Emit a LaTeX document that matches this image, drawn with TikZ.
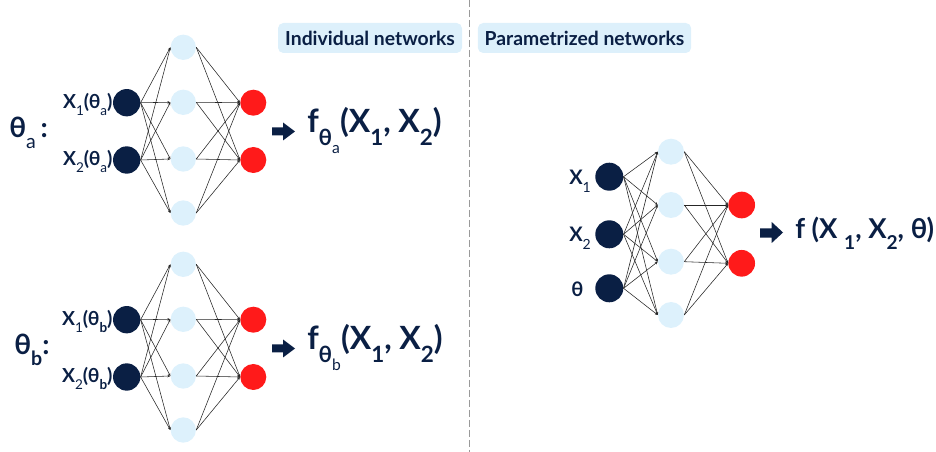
\documentclass[tikz,border=0pt]{standalone}
\usepackage{fontspec}
\setmainfont{Lato}
\usetikzlibrary{arrows.meta}
\definecolor{navy}{HTML}{0A1F44}
\definecolor{hidfill}{HTML}{DDF1FC}
\definecolor{outred}{HTML}{FF1A1A}
\definecolor{tagfill}{HTML}{DDF0FB}
\makeatletter
% lowered index in a reduced size; \lsub sets it in regular weight, \bsub keeps bold
\newcommand\subsize{\fontsize{\strip@pt\dimexpr 0.7\dimexpr\f@size pt\relax\relax}{0}\selectfont}
\newcommand\lsub[1]{\raisebox{-0.75ex}{\normalfont\subsize #1}}
\newcommand\bsub[1]{\raisebox{-0.75ex}{\subsize #1}}
\makeatother
\begin{document}
\begin{tikzpicture}[x=0.75pt,y=-0.75pt,
  innode/.style={circle,fill=navy,inner sep=0pt,minimum size=20.5pt},
  hidnode/.style={circle,fill=hidfill,inner sep=0pt,minimum size=19pt},
  outnode/.style={circle,fill=outred,inner sep=0pt,minimum size=19.5pt},
  edge/.style={draw=black!85,line width=0.42pt,-{Stealth[length=2.2pt,width=1.8pt]}},
  lbl/.style={text=navy,font=\bfseries,inner sep=0pt},
  tag/.style={fill=tagfill,rounded corners=4pt,text=navy,font=\bfseries\fontsize{14.5}{16}\selectfont,
    minimum height=22.5pt,inner xsep=4pt},
  bigarrow/.style={fill=navy}]
\useasboundingbox (0,0) rectangle (936,452);

% separator between the two panels
\draw[gray!80,dashed,dash pattern=on 5pt off 2.5pt,line width=0.7pt] (469,0) -- (469,452);

% panel titles
\node[tag,minimum width=138pt] (tagA) at (370,38) {Individual networks};
\node[tag,minimum width=160pt] (tagB) at (584.5,38) {Parametrized networks};

% ---------- individual network for theta_a ----------
\foreach \n/\y in {1/102.7,2/160} \node[innode] (a-i\n) at (126.7,\y) {};
\foreach \n/\y in {1/47.3,2/102.3,3/159,4/213} \node[hidnode] (a-h\n) at (183.3,\y) {};
\foreach \n/\y in {1/102.7,2/160} \node[outnode] (a-o\n) at (253.3,\y) {};
\foreach \i in {1,2} \foreach \h in {1,...,4} \draw[edge] (a-i\i.east) -- (a-h\h.west);
\foreach \h in {1,...,4} \foreach \o in {1,2} \draw[edge] (a-h\h.east) -- (a-o\o.west);

\node[lbl,anchor=base east,yshift=-4pt,font=\bfseries\fontsize{14.5}{16}\selectfont] (a-l1) at (a-i1.west) {X\lsub{1}(θ\lsub{a})};
\node[lbl,anchor=base east,yshift=-4pt,font=\bfseries\fontsize{14.5}{16}\selectfont] (a-l2) at (a-i2.west) {X\lsub{2}(θ\lsub{a})};
\node[lbl,anchor=base west,font=\bfseries\fontsize{21}{24}\selectfont] (a-par) at (9,138) {θ\lsub{a}\,:};

\fill[bigarrow] (272,127.5) -- (283,127.5) -- (283,122.5) -- (295,131.5) -- (283,140.5) -- (283,135.5) -- (272,135.5) -- cycle;
\node[lbl,anchor=base west,font=\bfseries\fontsize{24}{28}\selectfont] (a-f) at (307,133)
  {f\bsub{θ\lsub{a}}(X\bsub{1}, X\bsub{2})};

% ---------- individual network for theta_b ----------
\foreach \n/\y in {1/319.7,2/377} \node[innode] (b-i\n) at (126.7,\y) {};
\foreach \n/\y in {1/264.3,2/319.3,3/376,4/430} \node[hidnode] (b-h\n) at (183.3,\y) {};
\foreach \n/\y in {1/319.7,2/377} \node[outnode] (b-o\n) at (253.3,\y) {};
\foreach \i in {1,2} \foreach \h in {1,...,4} \draw[edge] (b-i\i.east) -- (b-h\h.west);
\foreach \h in {1,...,4} \foreach \o in {1,2} \draw[edge] (b-h\h.east) -- (b-o\o.west);

\node[lbl,anchor=base east,yshift=-4pt,font=\bfseries\fontsize{14.5}{16}\selectfont] (b-l1) at (b-i1.west) {X\lsub{1}(θ\bsub{b})};
\node[lbl,anchor=base east,yshift=-4pt,font=\bfseries\fontsize{14.5}{16}\selectfont] (b-l2) at (b-i2.west) {X\lsub{2}(θ\bsub{b})};
\node[lbl,anchor=base west,font=\bfseries\fontsize{21}{24}\selectfont] (b-par) at (14,355) {θ\bsub{b}:};

\fill[bigarrow] (272,344.5) -- (283,344.5) -- (283,339.5) -- (295,348.5) -- (283,357.5) -- (283,352.5) -- (272,352.5) -- cycle;
\node[lbl,anchor=base west,font=\bfseries\fontsize{24}{28}\selectfont] (b-f) at (307,350)
  {f\bsub{θ\lsub{b}}(X\bsub{1}, X\bsub{2})};

% ---------- parametrized network ----------
\foreach \n/\y in {1/176.7,2/234.3,3/288.3} \node[innode,minimum size=21pt] (p-i\n) at (609.3,\y) {};
\foreach \n/\y in {1/151.7,2/205,3/261.7,4/315} \node[hidnode,minimum size=19.5pt] (p-h\n) at (671,\y) {};
\foreach \n/\y in {1/205,2/263.3} \node[outnode,minimum size=20pt] (p-o\n) at (741.7,\y) {};
\foreach \i in {1,2,3} \foreach \h in {1,...,4} \draw[edge] (p-i\i.east) -- (p-h\h.west);
\foreach \h in {1,...,4} \foreach \o in {1,2} \draw[edge] (p-h\h.east) -- (p-o\o.west);

\node[lbl,anchor=base west,font=\bfseries\fontsize{15}{17}\selectfont] (p-l1) at (569,185) {X\lsub{1}};
\node[lbl,anchor=base west,font=\bfseries\fontsize{15}{17}\selectfont] (p-l2) at (569,242) {X\lsub{2}};
\node[lbl,anchor=base west,font=\bfseries\fontsize{15}{17}\selectfont] (p-l3) at (571,296.7) {θ};

\fill[bigarrow] (760,228.3) -- (771.7,228.3) -- (771.7,222) -- (783,232.5) -- (771.7,243) -- (771.7,237.7) -- (760,237.7) -- cycle;
\node[lbl,anchor=base west,font=\bfseries\fontsize{20.5}{24}\selectfont] (p-f) at (795,239)
  {f (X \bsub{1}, X\bsub{2}, θ)};
\end{tikzpicture}
\end{document}
